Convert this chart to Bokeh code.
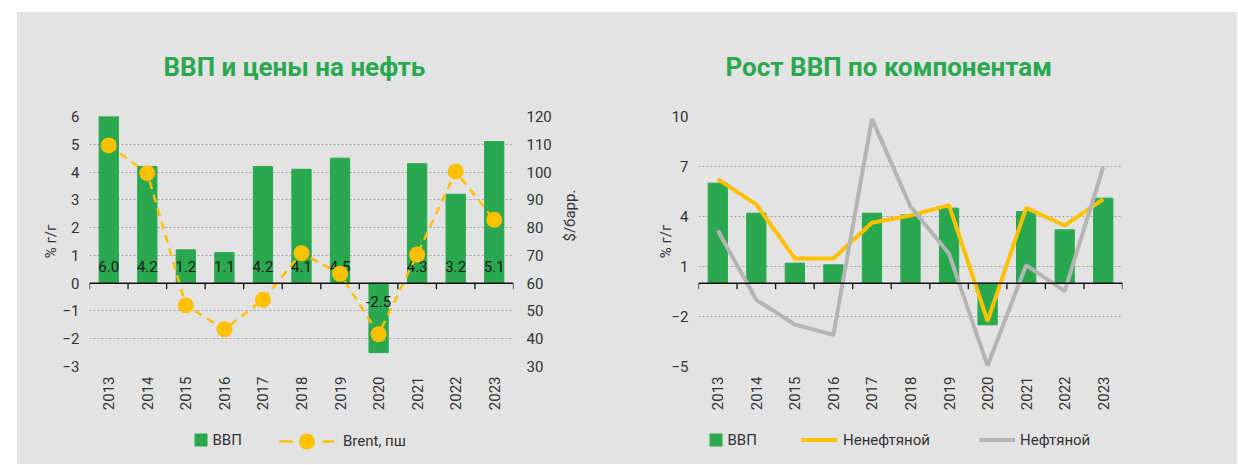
import math
from bokeh.plotting import figure
from bokeh.models import (Range1d, LinearAxis, FixedTicker, Legend, LegendItem,
                          Spacer, Span)
from bokeh.layouts import row, column
from bokeh.core.properties import value
from bokeh.embed import file_html
from bokeh.resources import INLINE

# ---------------- data ----------------
years = ["2013", "2014", "2015", "2016", "2017", "2018", "2019", "2020", "2021", "2022", "2023"]
gdp = [6.0, 4.2, 1.2, 1.1, 4.2, 4.1, 4.5, -2.5, 4.3, 3.2, 5.1]
brent = [109.6, 99.6, 52.0, 43.4, 54.0, 70.8, 63.4, 41.6, 70.3, 100.2, 82.8]
non_oil = [6.24, 4.72, 1.48, 1.48, 3.62, 4.06, 4.68, -2.28, 4.52, 3.46, 5.04]
oil = [3.16, -1.0, -2.48, -3.1, 9.86, 4.6, 1.76, -4.96, 1.08, -0.48, 6.96]
left_ticks = [-3, -2, -1, 0, 1, 2, 3, 4, 5, 6]
brent_ticks = [30, 40, 50, 60, 70, 80, 90, 100, 110, 120]
right_ticks = [-5, -2, 1, 4, 7, 10]

title_left = "ВВП и цены на нефть"
title_right = "Рост ВВП по компонентам"
y_label = "% г/г"
y2_label = "$/барр."
lbl_gdp = "ВВП"
lbl_brent = "Brent, пш"
lbl_non_oil = "Ненефтяной"
lbl_oil = "Нефтяной"

# ---------------- style ----------------
BG = "#e3e3e3"
GREEN = "#2aa84f"
YELLOW = "#ffc000"
GREY = "#b4b4b4"
TEXT = "#333333"
FONT = "Roboto"
H = 403
FRAME_H = 250
TOP = 104
BOTTOM = H - TOP - FRAME_H

idx = list(range(len(years)))
bounds = [i - 0.5 for i in range(len(years) + 1)]


def style_axis(ax, standoff):
    ax.axis_line_color = None
    ax.major_tick_line_color = None
    ax.minor_tick_line_color = None
    ax.major_tick_out = 0
    ax.major_tick_in = 0
    ax.minor_tick_out = 0
    ax.minor_tick_in = 0
    ax.major_label_standoff = standoff
    ax.major_label_text_font = FONT
    ax.major_label_text_font_size = "15px"
    ax.major_label_text_color = TEXT
    ax.axis_label_text_font = FONT
    ax.axis_label_text_font_size = "15px"
    ax.axis_label_text_font_style = "normal"
    ax.axis_label_text_color = TEXT


def make_fig(width, bl, br, yr, ticks, title, title_offset):
    p = figure(width=width, height=H, x_range=Range1d(-0.5, len(years) - 0.5),
               y_range=Range1d(*yr), output_backend="svg", toolbar_location=None,
               min_border_left=bl, min_border_right=br, min_border_top=TOP,
               min_border_bottom=BOTTOM, title=title)
    p.background_fill_color = BG
    p.border_fill_color = BG
    p.outline_line_color = None
    p.title.text_font = FONT
    p.title.text_font_size = "26px"
    p.title.text_font_style = "bold"
    p.title.text_color = GREEN
    p.title.align = "left"
    p.title.standoff = 69
    p.title.offset = title_offset
    p.xgrid.visible = False
    p.ygrid.grid_line_color = "#a3a3a3"
    p.ygrid.grid_line_dash = "2 2"
    p.ygrid.grid_line_width = 1
    p.yaxis.ticker = FixedTicker(ticks=ticks)
    p.yaxis.axis_label = y_label
    p.xaxis.ticker = FixedTicker(ticks=idx)
    p.xaxis.major_label_overrides = {i: y for i, y in zip(idx, years)}
    p.xaxis.major_label_orientation = math.pi / 2
    style_axis(p.xaxis[0], 10)
    return p


def zero_line(p, yr):
    tick_len = 6 / (FRAME_H / (yr[1] - yr[0]))
    p.segment(x0=bounds, y0=[0] * len(bounds), x1=bounds, y1=[-tick_len] * len(bounds),
              line_color="#111111", line_width=1.3)
    p.add_layout(Span(location=0, dimension="width", line_color="#111111", line_width=1.5))


# ---------------- left chart ----------------
yr1 = (-3, 6)
p1 = make_fig(600, 72, 104, yr1, left_ticks, title_left, 74)
style_axis(p1.yaxis[0], 10)
p1.yaxis[0].axis_label_standoff = -1
p1.extra_y_ranges = {"brent": Range1d(30, 120)}
ax2 = LinearAxis(y_range_name="brent", ticker=FixedTicker(ticks=brent_ticks),
                 axis_label=y2_label)
style_axis(ax2, 13)
ax2.axis_label_standoff = 15
if "axis_label_orientation" in ax2.properties():
    ax2.axis_label_orientation = math.pi / 2
p1.add_layout(ax2, "right")

p1.vbar(x=idx, top=gdp, width=0.5, color=GREEN)
zero_line(p1, yr1)
label_y = [0.6 if v >= 0 else -0.66 for v in gdp]
p1.text(x=idx, y=label_y, text=[f"{v:.1f}" for v in gdp], text_align="center",
        text_baseline="middle", text_font=value(FONT), text_font_size="15px",
        text_color="#1a1a1a")
p1.line(idx, brent, y_range_name="brent", line_color=YELLOW, line_width=2.5, line_dash="8 6")
p1.scatter(idx, brent, y_range_name="brent", size=16, fill_color=YELLOW, line_color=None)

# ---------------- right chart ----------------
yr2 = (-5, 10)
p2 = make_fig(620, 81, 115, yr2, right_ticks, title_right, 27)
style_axis(p2.yaxis[0], 10)
p2.yaxis[0].axis_label_standoff = -7

p2.vbar(x=idx, top=gdp, width=0.5, color=GREEN)
zero_line(p2, yr2)
p2.line(idx, non_oil, line_color=YELLOW, line_width=4)
p2.line(idx, oil, line_color=GREY, line_width=4)

# ---------------- legend strip ----------------
# the strip's ranges lie away from the data, so only the legend glyphs show
LEG_H = 49
n = len(years)
pl = figure(width=1220, height=LEG_H, x_range=Range1d(-3 * n, -2 * n),
            y_range=Range1d(-300, -200),
            x_axis_type=None, y_axis_type=None, output_backend="svg",
            toolbar_location=None, min_border=0, min_border_left=0,
            min_border_right=0, min_border_top=0, min_border_bottom=0)
pl.background_fill_color = BG
pl.border_fill_color = BG
pl.outline_line_color = None

r_bar = pl.vbar(x=idx, top=gdp, width=0.5, color=GREEN)
r_bline = pl.line(x=idx, y=brent, line_color=YELLOW, line_width=2.5, line_dash="13 30")
r_bdot = pl.scatter(x=idx, y=brent, size=16, fill_color=YELLOW, line_color=None)
r_non = pl.line(x=idx, y=non_oil, line_color=YELLOW, line_width=4)
r_oil = pl.line(x=idx, y=oil, line_color=GREY, line_width=4)

LEG_CY = 26  # legend centre, px below strip top


def add_legend(label, renderers, x, gw, gh, standoff):
    lg = Legend(items=[LegendItem(label=label, renderers=renderers)],
                location=(x, LEG_H - LEG_CY - gh / 2), orientation="horizontal",
                glyph_width=gw, glyph_height=gh, label_height=gh, label_standoff=standoff,
                padding=0, margin=0, spacing=0, border_line_color=None,
                background_fill_alpha=0, label_text_font=FONT,
                label_text_font_size="15px", label_text_color=TEXT)
    pl.add_layout(lg, "center")


add_legend(lbl_gdp, [r_bar], 175.5, 15, 15, 5)
add_legend(lbl_brent, [r_bline, r_bdot], 262, 55, 40, 9)
add_legend(lbl_gdp, [r_bar], 690.5, 15, 15, 5)
add_legend(lbl_non_oil, [r_non], 784, 36, 15, 6)
add_legend(lbl_oil, [r_oil], 962, 36, 15, 5)

bg = {"background-color": BG}
charts = row(p1, p2, styles=bg)
body = column(charts, pl, styles=bg)
layout = column(Spacer(height=12), row(Spacer(width=17), body))
open("out.html", "w").write(file_html(layout, INLINE))
